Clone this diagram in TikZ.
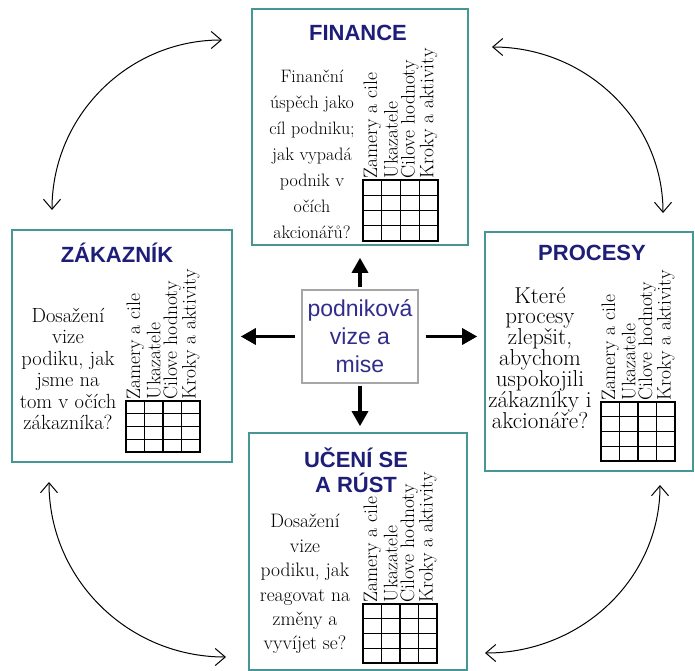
\documentclass[tikz,border=0pt]{standalone}
\usepackage{fontspec}
\setsansfont{Liberation Sans}
\usetikzlibrary{arrows.meta}

\definecolor{paneledge}{RGB}{70,150,150}
\definecolor{titleblue}{RGB}{30,30,120}
\definecolor{miseblue}{RGB}{50,45,140}

\tikzset{
  panel/.style={draw=paneledge, line width=1.6pt, fill=white, inner sep=0pt},
  paneltitle/.style={font=\sffamily\bfseries\fontsize{22}{25}\selectfont, text=titleblue, align=center, inner sep=0pt},
  bodytext/.style={align=center, inner sep=0pt},
  collabel/.style={rotate=90, anchor=west, inner sep=0.5pt, font=\rmfamily\fontsize{19.5}{20}\selectfont},
  gridline/.style={line width=1.2pt, line cap=rect},
  misebox/.style={draw=gray!70, line width=1.2pt, fill=white, align=center, text=miseblue,
    font=\sffamily\fontsize{23}{28}\selectfont, inner sep=0pt},
  bigarrow/.style={line width=3.2pt, ->, >={Triangle[length=15pt,width=16pt]}},
  cyclearrow/.style={line width=1pt, <->, >={Straight Barb[length=10pt,width=17pt]}},
}

% 4x4 table with rotated column heads: prefix, x, y (top left), cell width, cell height
\newcommand{\kpigrid}[5]{%
  \foreach \i in {0,...,4} {
    \draw[gridline] (#2+\i*#4, #3) -- (#2+\i*#4, #3+4*#5);
    \draw[gridline] (#2, #3+\i*#5) -- (#2+4*#4, #3+\i*#5);
  }
  \foreach \lab [count=\k] in {Zamery a cile, Ukazatele, Cilove hodnoty, Kroky a aktivity}
    \node[collabel] (#1-\k) at (#2+\k*#4-0.5*#4, #3-1) {\lab};
}

\begin{document}
\begin{tikzpicture}[x=1pt, y=-1pt]
    \path[use as bounding box, fill=white] (0,0) rectangle (695,670);

    % the four panels
    \node[panel, minimum width=216, minimum height=236] (fin) at (360,127) {};
    \node[panel, minimum width=220, minimum height=232] (zak) at (122,346) {};
    \node[panel, minimum width=208, minimum height=239] (proc) at (589,351.5) {};
    \node[panel, minimum width=218, minimum height=237] (uceni) at (358,551.5) {};

    \node[paneltitle] (fintitle) at (358,33) {FINANCE};
    \node[paneltitle] (zaktitle) at (117,253) {ZÁKAZNÍK};
    \node[paneltitle] (proctitle) at (592,253) {PROCESY};
    \node[paneltitle] (ucenititle) at (356,470) {UČENÍ SE\\A RÚST};

    \node[bodytext, font=\rmfamily\fontsize{18}{26}\selectfont] (fintext) at (312,154)
        {Finanční\\úspěch jako\\cíl podniku;\\jak vypadá\\podnik v\\očích\\akcionářů?};
    \node[bodytext, font=\rmfamily\fontsize{20.5}{21.4}\selectfont] (zaktext) at (68,369)
        {Dosažení\\vize\\podiku, jak\\jsme na\\tom v očích\\zákazníka?};
    \node[bodytext, font=\rmfamily\fontsize{23}{20.8}\selectfont] (proctext) at (540,358)
        {Které\\procesy\\zlepšit,\\abychom\\uspokojili\\zákazníky i\\akcionáře?};
    \node[bodytext, font=\rmfamily\fontsize{19.5}{24.4}\selectfont] (ucenitext) at (305,584)
        {Dosažení\\vize\\podiku, jak\\reagovat na\\změny a\\vyvíjet se?};

    \kpigrid{fin}{363}{180}{18.75}{15.25}
    \kpigrid{zak}{126}{401}{18.5}{12.75}
    \kpigrid{proc}{601}{402}{18.5}{14.75}
    \kpigrid{uceni}{363}{604}{18.5}{14.75}

    % centre
    \node[misebox, minimum width=116, minimum height=93] (mise) at (360,336.5)
        {podniková\\vize a\\mise};

    \draw[bigarrow, shorten <=2pt, shorten >=12pt] (mise.north) -- (mise.north |- fin.south);
    \draw[bigarrow, shorten <=2pt, shorten >=6pt] (mise.south) -- (mise.south |- uceni.north);
    \draw[bigarrow, shorten <=6pt, shorten >=8pt] (mise.west) -- (mise.west -| zak.east);
    \draw[bigarrow, shorten <=7pt, shorten >=7pt] (mise.east) -- (mise.east -| proc.west);

    % cycle between the panels
    \coordinate (tlA) at (222,40);
    \coordinate (tlB) at (52,210);
    \coordinate (trA) at (492,47);
    \coordinate (trB) at (663,213);
    \coordinate (blA) at (49,482);
    \coordinate (blB) at (226,657);
    \coordinate (brA) at (660,485);
    \coordinate (brB) at (485,653);
    \draw[cyclearrow] (tlA) .. controls (128,40) and (52,116) .. (tlB);
    \draw[cyclearrow] (trA) .. controls (586,47) and (663,121) .. (trB);
    \draw[cyclearrow] (blA) .. controls (49,579) and (128,657) .. (blB);
    \draw[cyclearrow] (brA) .. controls (660,578) and (582,653) .. (brB);
\end{tikzpicture}
\end{document}
